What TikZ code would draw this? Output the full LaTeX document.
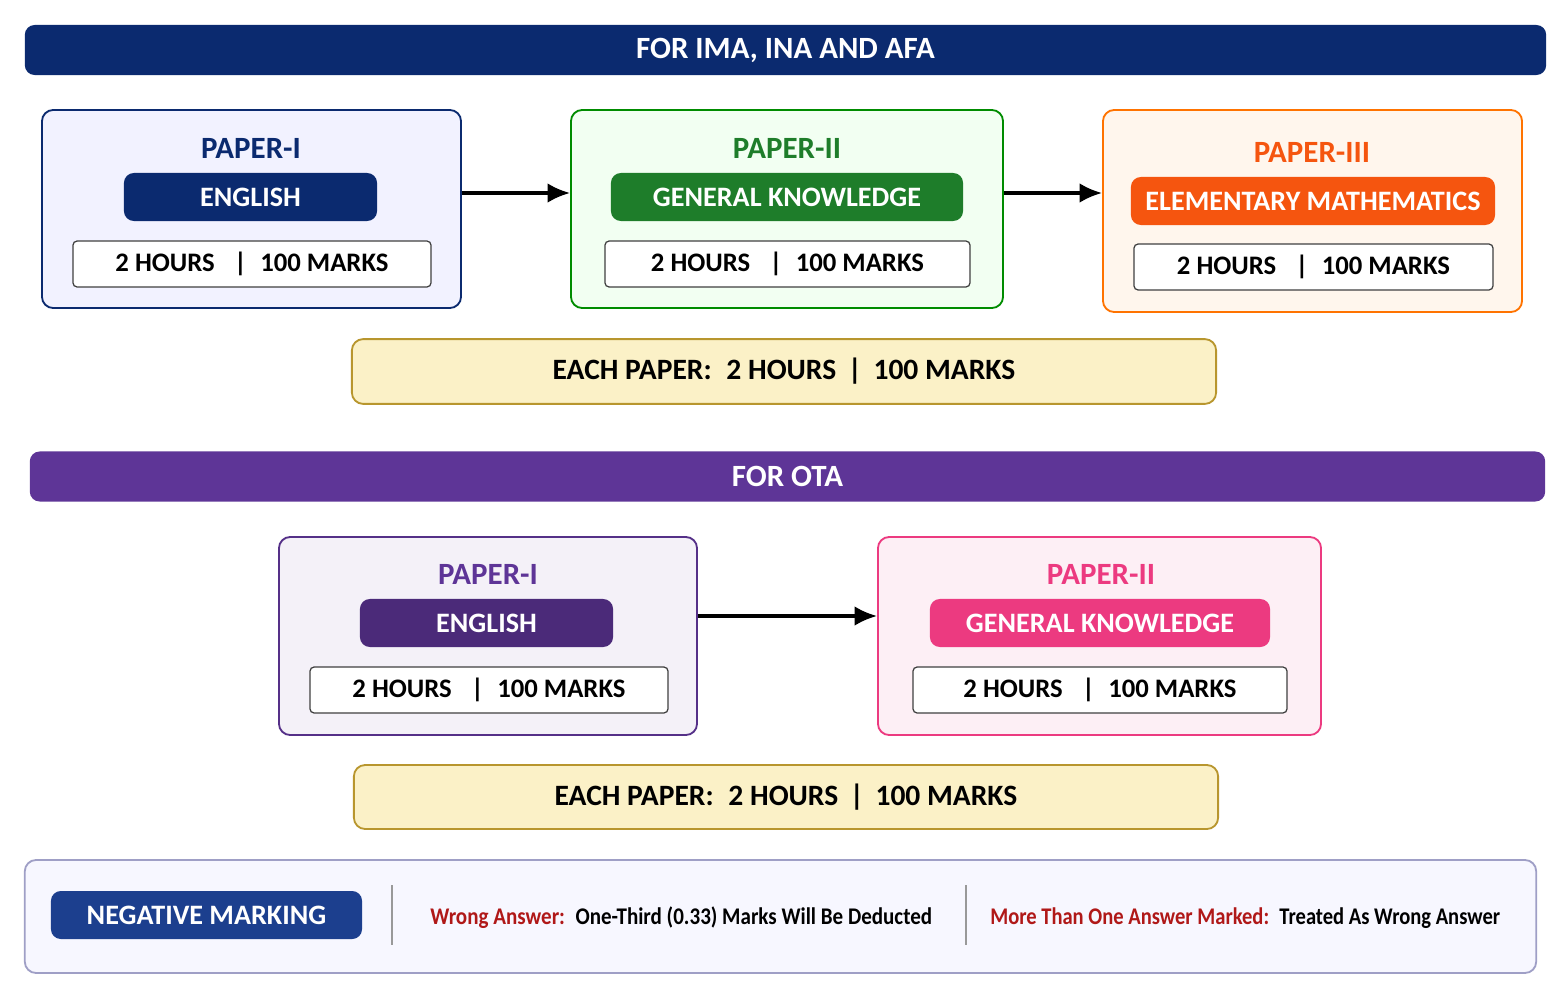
\documentclass[tikz,border=0pt]{standalone}
\usepackage{fontspec}
\setmainfont{Carlito}
\usetikzlibrary{arrows.meta}
\definecolor{navy}{HTML}{0B2A6F}
\definecolor{grn}{HTML}{1E7D2A}
\definecolor{org}{HTML}{F5550F}
\definecolor{purp}{HTML}{5E3597}
\definecolor{pink}{HTML}{EC3A80}
\definecolor{wine}{HTML}{B01818}
\definecolor{sand}{HTML}{FBF1C7}
\definecolor{gold}{HTML}{B8962E}
\definecolor{negblue}{HTML}{1C3F8E}
\begin{document}
\begin{tikzpicture}[x=0.025cm,y=-0.025cm,
  bar/.style={fill=#1, rounded corners=7pt, minimum height=1.25cm, text=white, font=\bfseries\fontsize{22}{24}\selectfont},
  card/.style={draw=#1, line width=1.3pt, rounded corners=8pt, minimum width=10.475cm, minimum height=4.95cm},
  pill/.style={fill=#1, rounded corners=7pt, minimum height=1.2cm, text=white, font=\bfseries\fontsize{20}{22}\selectfont},
  slot/.style={draw=black!75, fill=white, line width=0.9pt, rounded corners=3pt, minimum width=8.95cm, minimum height=1.15cm, font=\bfseries\fontsize{19}{21}\selectfont},
  each/.style={draw=gold, fill=sand, line width=1.3pt, rounded corners=8pt, minimum width=21.6cm, minimum height=1.62cm, font=\bfseries\fontsize{21}{23}\selectfont},
  head/.style={font=\bfseries\fontsize{22}{24}\selectfont, text=#1},
  link/.style={-{Latex[length=16pt,width=14pt]}, line width=2.3pt}]
\useasboundingbox (0,0) rectangle (1566,1005);
\node[bar=navy, minimum width=38.025cm] (ttlA) at (785.5,50) {FOR IMA, INA AND AFA};
% first row
\node[card=navy, fill=blue!5] (pA) at (251.5,209) {};
\node[card=green!55!black, fill=green!5, minimum width=10.8cm] (pB) at (787,209) {};
\node[card=orange!90!red, fill=orange!7, minimum height=5.05cm] (pC) at (1312.5,211) {};
\node[head=navy] (hA) at (251,148) {PAPER-I};
\node[head=grn] (hB) at (787,148) {PAPER-II};
\node[head=org] (hC) at (1312,152) {PAPER-III};
\node[pill=navy, minimum width=6.325cm] (sA) at (250.5,197) {ENGLISH};
\node[pill=grn, minimum width=8.8cm] (sB) at (787,197) {GENERAL KNOWLEDGE};
\node[pill=org, minimum width=9.1cm] (sC) at (1313,201) {ELEMENTARY MATHEMATICS};
\node[slot] (tA) at (252,264) {2 HOURS \enspace|\enspace 100 MARKS};
\node[slot, minimum width=9.125cm] (tB) at (787.5,264) {2 HOURS \enspace|\enspace 100 MARKS};
\node[slot, minimum width=8.975cm] (tC) at (1313.5,267) {2 HOURS \enspace|\enspace 100 MARKS};
\draw[link] (pA.east |- 0,193) -- (pB.west |- 0,193);
\draw[link] (pB.east |- 0,193) -- (pC.west |- 0,193);
\node[each] (eA) at (784,371.5) {EACH PAPER:\enspace 2 HOURS \,|\, 100 MARKS};
% second row
\node[bar=purp, minimum width=37.875cm] (ttlB) at (787.5,476.5) {FOR OTA};
\node[card=purp!90!black, fill=purp!7, minimum width=10.45cm] (pD) at (488,636) {};
\node[card=pink, fill=pink!8, minimum width=11.075cm] (pE) at (1099.5,636) {};
\node[head=purp] (hD) at (488,574) {PAPER-I};
\node[head=pink] (hE) at (1101,574) {PAPER-II};
\node[pill=purp!80!black, minimum width=6.325cm] (sD) at (486.5,623) {ENGLISH};
\node[pill=pink, minimum width=8.5cm] (sE) at (1100,623) {GENERAL KNOWLEDGE};
\node[slot] (tD) at (489,690) {2 HOURS \enspace|\enspace 100 MARKS};
\node[slot, minimum width=9.35cm] (tE) at (1100,690) {2 HOURS \enspace|\enspace 100 MARKS};
\draw[link] (pD.east |- 0,616) -- (pE.west |- 0,616);
\node[each, minimum height=1.6cm] (eB) at (786,797) {EACH PAPER:\enspace 2 HOURS \,|\, 100 MARKS};
% negative marking
\node[draw=blue!25!gray!60, fill=blue!3, line width=1.3pt, rounded corners=8pt, minimum width=37.775cm, minimum height=2.825cm] (neg) at (780.5,916.5) {};
\node[pill=negblue, minimum width=7.775cm] (nA) at (206.5,915) {NEGATIVE MARKING};
\draw[black!40, line width=1pt] (392,885) -- (392,945) (966,885) -- (966,945);
\node[anchor=west, inner sep=0pt, font=\bfseries\fontsize{17}{19}\selectfont] (nB) at (430,918) {\scalebox{0.88}[1]{\textcolor{wine}{Wrong Answer:}\enspace One-Third (0.33) Marks Will Be Deducted}};
\node[anchor=west, inner sep=0pt, font=\bfseries\fontsize{17}{19}\selectfont] (nC) at (990,918) {\scalebox{0.86}[1]{\textcolor{wine}{More Than One Answer Marked:}\enspace Treated As Wrong Answer}};
\end{tikzpicture}
\end{document}
